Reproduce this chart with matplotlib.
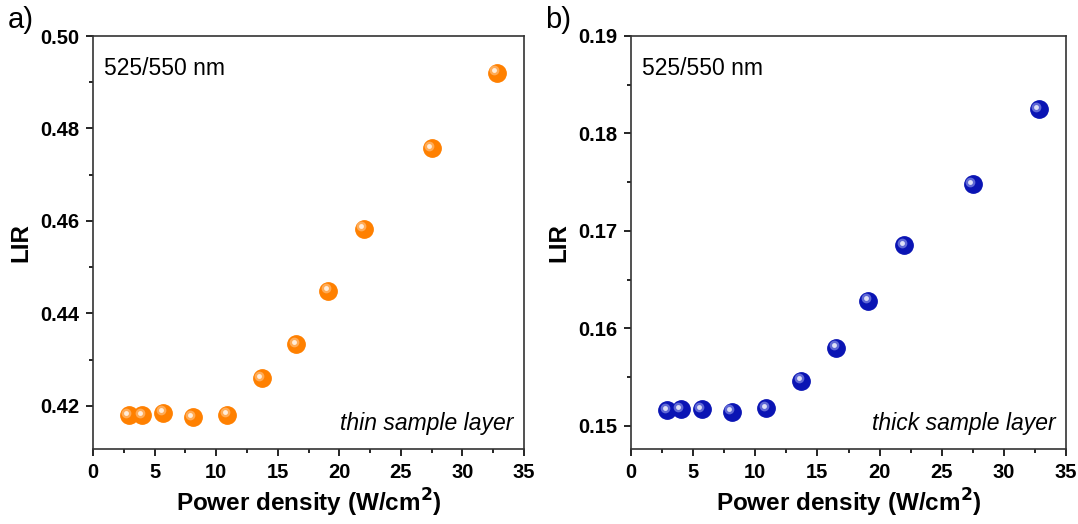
import matplotlib
matplotlib.use("Agg")
import matplotlib.pyplot as plt
from matplotlib.ticker import MultipleLocator, AutoMinorLocator, FormatStrFormatter
from matplotlib.transforms import ScaledTranslation

plt.rcParams['font.family'] = ['Liberation Sans', 'DejaVu Sans']

# data
power = [2.9, 4.0, 5.7, 8.1, 10.9, 13.7, 16.5, 19.1, 22.0, 27.5, 32.8]
lir_thin = [0.4180, 0.4180, 0.4185, 0.4176, 0.4181, 0.4260, 0.4333, 0.4449, 0.4583, 0.4757, 0.4920]
lir_thick = [0.1516, 0.1517, 0.1517, 0.1514, 0.1518, 0.1546, 0.1580, 0.1628, 0.1685, 0.1748, 0.1825]


def balls(ax, x, y, color, light):
    # fake the shaded sphere look: base dot + soft highlight
    ax.plot(x, y, 'o', ms=12.5, color=color, mec=color, zorder=3)
    off = ax.transData + ScaledTranslation(-1.8/72, 1.8/72, ax.figure.dpi_scale_trans)
    ax.plot(x, y, 'o', ms=7, color=light, mec='none', alpha=0.45, zorder=4, transform=off)
    ax.plot(x, y, 'o', ms=3.5, color='white', mec='none', alpha=0.8, zorder=5, transform=off)


def style(ax, ylim, ystep, note):
    ax.set_xlim(0, 35)
    ax.set_ylim(*ylim)
    ax.xaxis.set_major_locator(MultipleLocator(5))
    ax.xaxis.set_minor_locator(AutoMinorLocator(2))
    ax.yaxis.set_major_locator(MultipleLocator(ystep))
    ax.yaxis.set_minor_locator(AutoMinorLocator(2))
    ax.yaxis.set_major_formatter(FormatStrFormatter('%.2f'))
    ax.tick_params(which='both', direction='out', top=False, right=False, width=1.2)
    ax.tick_params(which='major', length=5, labelsize=14.5, pad=5)
    ax.tick_params(which='minor', length=3)
    for lab in ax.get_xticklabels() + ax.get_yticklabels():
        lab.set_fontweight('bold')
    for s in ax.spines.values():
        s.set_linewidth(1.2)
        s.set_color('#333333')
    ax.set_xlabel('Power density (W/cm$^\\mathbf{2}$)', fontsize=17.5, fontweight='bold')
    ax.set_ylabel('LIR', fontsize=17.5, fontweight='bold')
    ax.xaxis.set_label_coords(0.5, -0.092)
    ax.yaxis.set_label_coords(-0.14, 0.5)
    ax.text(0.025, 0.95, '525/550 nm', transform=ax.transAxes, fontsize=16.5, va='top', ha='left')
    ax.text(0.975, 0.035, note, transform=ax.transAxes, fontsize=16.5, style='italic', va='bottom', ha='right')


fig = plt.figure(figsize=(10.78, 5.24), dpi=100)
ax1 = fig.add_axes([93/1078, 1 - 449/524, 431/1078, 413/524])
ax2 = fig.add_axes([631/1078, 1 - 449/524, 435/1078, 413/524])

balls(ax1, power, lir_thin, '#FF8000', '#FFE0C0')
style(ax1, (0.4107, 0.50), 0.02, 'thin sample layer')

balls(ax2, power, lir_thick, '#0A14B4', '#C8D0FF')
style(ax2, (0.1476, 0.19), 0.01, 'thick sample layer')

fig.text(8/1078, 1 - 20/524, 'a)', fontsize=21, va='center', ha='left')
fig.text(545/1078, 1 - 20/524, 'b)', fontsize=21, va='center', ha='left')

fig.savefig('out.png', dpi=100, facecolor='white')
